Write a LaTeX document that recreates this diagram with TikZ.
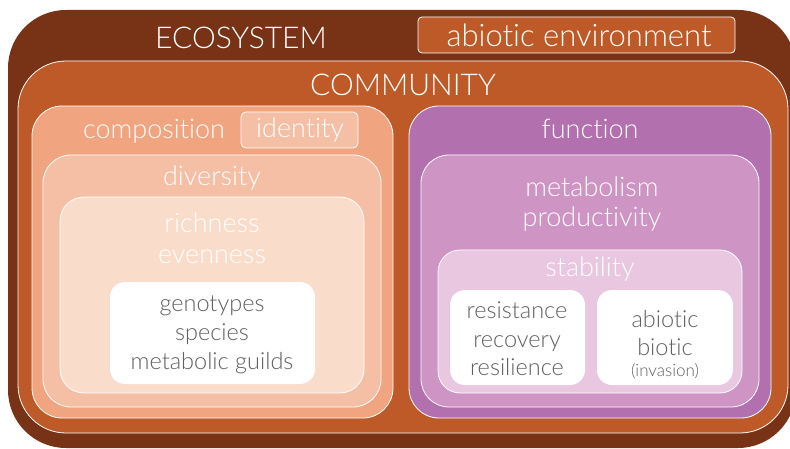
\documentclass[tikz,border=0pt]{standalone}
\usepackage{fontspec}
\setmainfont{Lato Light}[Ligatures=CommonOff]
\usepackage{tikz}
\usetikzlibrary{positioning}
\usepackage{xcolor}

\definecolor{ecobrown}{RGB}{120,50,22}
\definecolor{commorange}{RGB}{190,90,40}
\definecolor{compsalmon}{RGB}{240,164,127}
\definecolor{divpeach}{RGB}{245,191,165}
\definecolor{richpeach}{RGB}{250,220,203}
\definecolor{funcpurple}{RGB}{179,112,174}
\definecolor{metapurple}{RGB}{205,148,196}
\definecolor{stabpink}{RGB}{234,199,224}
\definecolor{boxgray}{RGB}{95,95,95}

\begin{document}
\begin{tikzpicture}[x=1pt, y=-1pt,
    layer/.style={draw=white, line width=0.8pt, rounded corners=#1},
    title/.style={text=white, font=\fontsize{30}{34}\selectfont},
    tag/.style={text=white, align=center, font=\fontsize{27}{30}\selectfont},
    item/.style={text=boxgray, align=center, font=\fontsize{23.5}{28.5}\selectfont}]
    \useasboundingbox (0,0) rectangle (790,449);
    \clip (0,0) rectangle (790,449);

    % Ecosystem and its abiotic environment
    \fill[ecobrown, rounded corners=58] (8,10) rectangle (796,448);
    \filldraw[layer=4, fill=commorange] (418,17) rectangle (735,53);
    \node[title] (eco) at (241,38) {ECOSYSTEM};
    \node[tag, font=\fontsize{31}{34}\selectfont] (abio) at (579,35) {abiotic environment};

    % Community
    \filldraw[layer=48, fill=commorange] (18,61) rectangle (788,433);
    \node[title] (comm) at (403,85) {COMMUNITY};

    % Composition side
    \filldraw[layer=30, fill=compsalmon] (32,106) rectangle (393,418);
    \filldraw[layer=28, fill=divpeach] (43,155) rectangle (381,407);
    \filldraw[layer=24, fill=richpeach] (60,197) rectangle (364,393);
    \filldraw[layer=15, fill=white, draw=none] (110,282) rectangle (315,384);
    \filldraw[layer=5, fill=divpeach] (241,112) rectangle (358,148);
    \node[tag] (comp) at (154,131) {composition};
    \node[tag] (ident) at (300,130) {identity};
    \node[tag] (div) at (212,178) {diversity};
    \node[tag, font=\fontsize{27}{31}\selectfont] (rich) at (212,238) {richness\\evenness};
    \node[item, font=\fontsize{23.5}{29}\selectfont] (taxa) at (212,335) {genotypes\\species\\metabolic guilds};

    % Function side
    \filldraw[layer=30, fill=funcpurple] (409,106) rectangle (771,418);
    \filldraw[layer=28, fill=metapurple] (421,155) rectangle (759,407);
    \filldraw[layer=22, fill=stabpink] (438,250) rectangle (742,393);
    \filldraw[layer=15, fill=white, draw=none] (450,290) rectangle (585,385);
    \filldraw[layer=15, fill=white, draw=none] (597,290) rectangle (733,385);
    \node[tag] (func) at (590,129) {function};
    \node[tag] (meta) at (592,204) {metabolism\\productivity};
    \node[tag] (stab) at (590,269) {stability};
    \node[item] (resp) at (517,339) {resistance\\recovery\\resilience};
    \node[item] (dist) at (665,333) {abiotic\\biotic};
    \node[item, font=\fontsize{17}{19}\selectfont, below=1pt of dist] (inv) {(invasion)};
\end{tikzpicture}
\end{document}
